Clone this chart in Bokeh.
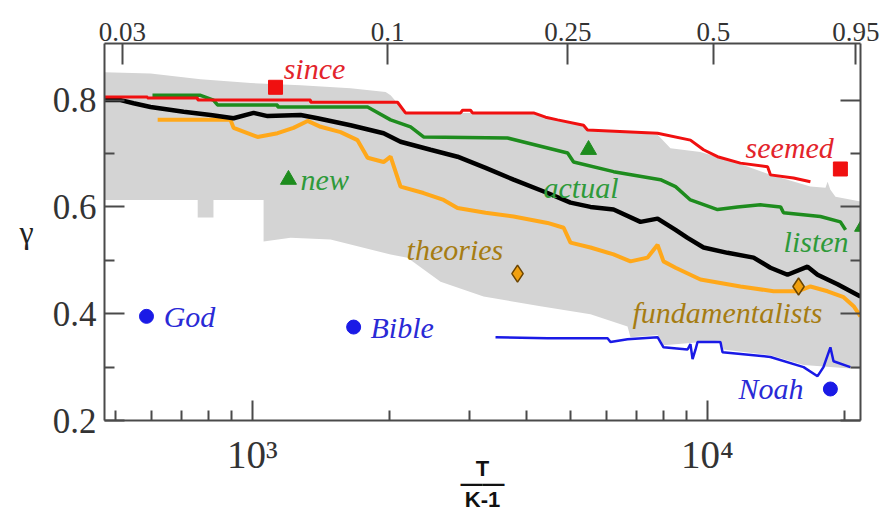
from bokeh.plotting import figure
from bokeh.models import LogAxis, LinearAxis, FixedTicker, ColumnDataSource, Range1d
from bokeh.core.properties import value
from bokeh.embed import file_html
from bokeh.resources import INLINE

# ---- data (x = T/(K-1), y = gamma) ----
band_upper_x = [473, 597, 769, 991, 1276, 1643, 1962, 2012, 2084, 2170, 4148, 4685, 5342, 5451, 7771,
                8294, 9653, 11648, 13755, 16841, 18180, 18370, 18633, 19120, 21700]
band_upper_y = [0.852, 0.850, 0.839, 0.832, 0.828, 0.822, 0.815, 0.809, 0.794, 0.776, 0.776, 0.763, 0.753, 0.744, 0.735,
                0.710, 0.703, 0.682, 0.660, 0.638, 0.636, 0.647, 0.632, 0.619, 0.610]
band_lower_x = [473, 758, 758, 821, 821, 1058, 1058, 1213, 1485, 2012, 2192, 2591, 3221, 4297, 5533, 6675,
                6774, 7771, 8008, 10681, 10850, 13755, 16270, 18633, 21700]
band_lower_y = [0.613, 0.613, 0.580, 0.580, 0.613, 0.613, 0.535, 0.542, 0.539, 0.511, 0.505, 0.460, 0.432, 0.414, 0.399, 0.376,
                0.356, 0.360, 0.341, 0.350, 0.333, 0.322, 0.304, 0.300, 0.296]

red_x = [473, 588, 588, 758, 758, 1342, 1342, 2084, 2170, 2867, 2896, 3015, 3046, 4148, 4409, 4685,
         5342, 5451, 7771, 9177, 9806, 10527, 11818, 13560, 13755, 15464, 16841]
red_y = [0.806, 0.806, 0.804, 0.804, 0.800, 0.800, 0.796, 0.796, 0.776, 0.776, 0.781, 0.781, 0.776, 0.776, 0.768, 0.763,
         0.753, 0.744, 0.738, 0.725, 0.707, 0.694, 0.682, 0.675, 0.660, 0.654, 0.647]

green_x = [603, 769, 821, 838, 1136, 1136, 1791, 2012, 2226, 2377, 3637, 4929, 5080, 6219, 7885, 8510,
           9177, 10527, 11648, 13076, 14480, 14700, 17714, 19600, 20120]
green_y = [0.809, 0.809, 0.800, 0.791, 0.791, 0.787, 0.787, 0.763, 0.750, 0.731, 0.729, 0.701, 0.684, 0.666, 0.651, 0.638,
           0.613, 0.595, 0.600, 0.604, 0.600, 0.589, 0.582, 0.572, 0.557]

black_x = [473, 513, 548, 597, 706, 809, 909, 1006, 1080, 1276, 1390, 1643, 1942, 2116, 2463, 2823, 3254, 3749,
           4453, 5001, 5533, 6219, 7126, 7771, 8510, 9043, 9806, 11070, 12630, 13755, 15000, 16600, 17460, 19320, 21700]
black_y = [0.800, 0.800, 0.794, 0.787, 0.778, 0.772, 0.766, 0.776, 0.770, 0.772, 0.766, 0.753, 0.738, 0.722, 0.707, 0.694,
           0.673, 0.651, 0.626, 0.608, 0.600, 0.595, 0.572, 0.578, 0.557, 0.542, 0.524, 0.514, 0.505, 0.486, 0.473, 0.488,
           0.473, 0.455, 0.432]

orange_x = [619, 895, 909, 1026, 1136, 1231, 1322, 1412, 1562, 1702, 1791, 1942, 2012, 2116, 2377, 2631, 2823, 3254,
            3749, 4453, 4830, 5001, 5533, 6219, 6774, 7385, 7771, 8008, 8510, 9653, 11818, 13975, 15780, 16841, 18370,
            19920, 20960, 21700]
orange_y = [0.763, 0.763, 0.748, 0.731, 0.738, 0.748, 0.761, 0.750, 0.740, 0.725, 0.692, 0.684, 0.694, 0.638, 0.626,
            0.613, 0.598, 0.589, 0.582, 0.570, 0.561, 0.533, 0.524, 0.511, 0.498, 0.505, 0.529, 0.498, 0.486, 0.464,
            0.451, 0.442, 0.442, 0.451, 0.442, 0.431, 0.414, 0.395]

blue_x = [3422, 4453, 6033, 6122, 6675, 7771, 8008, 9043, 9177, 9276, 9417, 9512, 10681, 10795, 13755, 16270,
          17460, 17990, 18633, 18930, 20617]
blue_y = [0.356, 0.354, 0.354, 0.347, 0.352, 0.356, 0.337, 0.333, 0.343, 0.315, 0.333, 0.347, 0.347, 0.328, 0.319,
          0.300, 0.283, 0.300, 0.337, 0.311, 0.300]

square_x = [1124, 19600]
square_y = [0.824, 0.671]
triangle_x = [1200, 5479, 21930]
triangle_y = [0.651, 0.707, 0.563]
diamond_x = [3825, 15860]
diamond_y = [0.475, 0.451]
circle_x = [585, 1669, 18633]
circle_y = [0.395, 0.375, 0.259]

word_text = ["since", "seemed", "new", "actual", "listen", "theories", "fundamentalists", "God", "Bible", "Noah"]
word_x = [1171, 12130, 1276, 4363, 14700, 2182, 6845, 638, 1818, 11710]
word_y = [0.860, 0.712, 0.651, 0.636, 0.535, 0.520, 0.403, 0.394, 0.375, 0.259]
word_color = ["#e3242b", "#e3242b", "#2e9a3a", "#2e9a3a", "#2e9a3a", "#a67c12", "#a67c12",
              "#2a2ad6", "#2a2ad6", "#2a2ad6"]

bottom_ticks = [1000, 10000]
bottom_labels = ["10³", "10⁴"]
bottom_minor = [500, 600, 700, 800, 900, 2000, 3000, 4000, 5000, 6000, 7000, 8000, 9000, 20000]
top_ticks = [518, 1982, 4933, 10310, 21200]
top_labels = ["0.03", "0.1", "0.25", "0.5", "0.95"]
left_ticks = [0.2, 0.4, 0.6, 0.8]
left_minor = [0.3, 0.5, 0.7]
x_title = "T\n——\nK-1"
y_title = "γ"

AX = "#4a4a4a"
LBL = "#333333"
SERIF = "Liberation Serif"

p = figure(width=888, height=514, x_axis_type="log",
           x_range=Range1d(473, 21700), y_range=Range1d(0.2, 0.906),
           output_backend="svg", toolbar_location=None,
           min_border_left=104, min_border_right=28, min_border_top=43, min_border_bottom=92)
p.grid.visible = False
p.outline_line_color = None
p.background_fill_color = "white"
p.border_fill_color = "white"


def style_axis(ax, label_size, standoff):
    ax.axis_line_color = AX
    ax.axis_line_width = 2
    ax.major_tick_line_color = AX
    ax.major_tick_line_width = 2
    ax.minor_tick_line_color = AX
    ax.minor_tick_line_width = 2
    ax.major_tick_in = 20
    ax.major_tick_out = 0
    ax.minor_tick_in = 10
    ax.minor_tick_out = 0
    ax.major_label_text_font = SERIF
    ax.major_label_text_font_size = label_size
    ax.major_label_text_color = LBL
    ax.major_label_standoff = standoff


xa = p.xaxis[0]
xa.ticker = FixedTicker(ticks=bottom_ticks, minor_ticks=bottom_minor)
xa.major_label_overrides = dict(zip(bottom_ticks, bottom_labels))
style_axis(xa, "39px", 12)
xa.axis_label = x_title
xa.axis_label_text_font = "Liberation Sans"
xa.axis_label_text_font_style = "bold"
xa.axis_label_text_font_size = "22px"
xa.axis_label_text_color = "#111111"
xa.axis_label_text_line_height = 0.62
xa.axis_label_standoff = -23

ya = p.yaxis[0]
ya.ticker = FixedTicker(ticks=left_ticks, minor_ticks=left_minor)
style_axis(ya, "35px", 8)
ya.axis_label = y_title
ya.axis_label_text_font = SERIF
ya.axis_label_text_font_style = "normal"
ya.axis_label_text_font_size = "32px"
ya.axis_label_text_color = "#222222"
ya.axis_label_standoff = 16
try:
    ya.axis_label_orientation = "horizontal"
except Exception:
    pass

top = LogAxis(ticker=FixedTicker(ticks=top_ticks))
top.major_label_overrides = dict(zip(top_ticks, top_labels))
style_axis(top, "27px", 3)
top.major_tick_in = 21
top.minor_tick_line_color = None
p.add_layout(top, "above")

# right frame axis: short ticks at 0.3/0.5/0.7, long ticks at 0.4/0.6/0.8, no labels
right = LinearAxis(ticker=FixedTicker(ticks=left_minor, minor_ticks=left_ticks))
style_axis(right, "10px", 0)
right.major_tick_in = 10
right.minor_tick_in = 20
right.major_label_overrides = {t: "" for t in left_minor}
p.add_layout(right, "right")

# gray band
p.patch(band_upper_x + band_lower_x[::-1], band_upper_y + band_lower_y[::-1],
        fill_color="#d4d4d4", line_color=None)

p.line(blue_x, blue_y, line_color="#1a1ae6", line_width=2.5)
p.line(orange_x, orange_y, line_color="#ffa81a", line_width=4)
p.line(black_x, black_y, line_color="black", line_width=4.5)
p.line(green_x, green_y, line_color="#1e8c1e", line_width=3.5)
p.line(red_x, red_y, line_color="#f01010", line_width=3)

p.scatter(square_x, square_y, marker="square", size=14, fill_color="#f01010", line_color="#f01010")
p.scatter(triangle_x, triangle_y, marker="triangle", size=16, fill_color="#1e8c1e", line_color="#1e8c1e")
p.scatter(diamond_x, diamond_y, marker="diamond", size=17, fill_color="#f0a010", line_color="#6b4400", line_width=1.5)
p.scatter(circle_x, circle_y, marker="circle", size=14, fill_color="#1a1ae6", line_color="#1a1ae6")

src = ColumnDataSource(dict(x=word_x, y=word_y, text=word_text, color=word_color))
p.text(x="x", y="y", text="text", source=src, text_color="color",
       text_font=value(SERIF), text_font_style="italic", text_font_size="30px",
       text_baseline="middle", text_align="left")

open("out.html", "w").write(file_html(p, INLINE))
